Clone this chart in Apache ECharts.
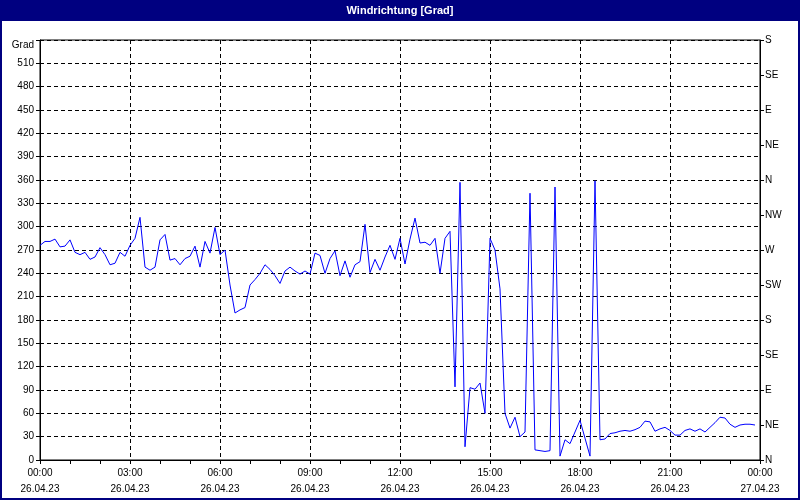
<!DOCTYPE html>
<html><head><meta charset="utf-8">
<script src="https://cdn.jsdelivr.net/npm/echarts@6/dist/echarts.min.js"></script>
<style>html,body{margin:0;padding:0;background:#fff}#c{width:800px;height:500px}</style>
</head><body><div id="c"></div>
<script>
const titleText = 'Windrichtung [Grad]';
const degreeUnit = 'Grad';
const sampleMinutes = 10;
const windDirection = [
  276,281,281,284,274,275,283,267,264,267,258,261,273,264,251,253,267,262,276,285,
  312,248,244,248,283,290,257,259,251,259,262,275,248,281,266,299,264,270,225,189,
  193,196,225,232,240,251,245,237,227,243,248,243,239,243,239,266,263,240,259,269,
  237,256,235,251,255,303,241,258,244,261,276,258,285,252,284,311,279,280,276,285,
  240,285,294,94,357,17,93,91,99,60,285,270,220,60,41,55,30,36,343,13,
  12,11,12,351,5,26,21,36,51,28,5,359,26,27,34,35,37,38,37,39,
  42,50,49,37,40,42,38,32,32,38,40,37,40,36,42,48,55,54,46,42,
  45,46,46,45
];
const timeTickLabels = [
  '00:00\n26.04.23','03:00\n26.04.23','06:00\n26.04.23','09:00\n26.04.23',
  '12:00\n26.04.23','15:00\n26.04.23','18:00\n26.04.23','21:00\n26.04.23',
  '00:00\n27.04.23'
];
const compassLabels = ['N','NE','E','SE','S','SW','W','NW','N','NE','E','SE','S'];

const seriesData = windDirection.map((v, i) => [i * sampleMinutes, v]);
const fontFamily = 'Liberation Sans';
const dash = [4, 3];

const chart = echarts.init(document.getElementById('c'), null, {renderer: 'canvas'});
chart.setOption({
  animation: false,
  backgroundColor: '#ffffff',
  graphic: [
    {type: 'rect', z: 100, shape: {x: 0, y: 0, width: 800, height: 21}, style: {fill: '#000080'}},
    {type: 'rect', z: 100, shape: {x: 1, y: 1, width: 798, height: 498}, style: {fill: 'none', stroke: '#000080', lineWidth: 2}},
    {type: 'text', z: 101, x: 400, y: 11, style: {text: titleText, fill: '#ffffff', font: 'bold 11px "Liberation Sans"', textAlign: 'center', textVerticalAlign: 'middle'}}
  ],
  grid: {left: 40, right: 40, top: 40, bottom: 40, show: true, borderColor: '#000', borderWidth: 1, backgroundColor: 'transparent'},
  xAxis: {
    type: 'value', min: 0, max: 1440, interval: 180,
    axisLine: {show: true, lineStyle: {color: '#000', width: 1}},
    axisTick: {show: true, length: 4, lineStyle: {color: '#000'}},
    minorTick: {show: true, splitNumber: 3, length: 4, lineStyle: {color: '#000'}},
    axisLabel: {color: '#000', fontFamily, fontSize: 10, lineHeight: 16, margin: 5,
      formatter: v => timeTickLabels[Math.round(v / 180)] || ''},
    splitLine: {show: true, lineStyle: {color: '#000', type: dash}}
  },
  yAxis: [
    {
      type: 'value', min: 0, max: 540, interval: 30, position: 'left',
      name: degreeUnit, nameLocation: 'end', nameGap: -5,
      nameTextStyle: {color: '#000', fontFamily, fontSize: 10, align: 'right', verticalAlign: 'middle', padding: [0, 6, 0, 0]},
      axisLine: {show: true, lineStyle: {color: '#000'}},
      axisTick: {show: true, length: 4, lineStyle: {color: '#000'}},
      axisLabel: {color: '#000', fontFamily, fontSize: 10, margin: 6, formatter: v => v === 540 ? '' : String(v)},
      splitLine: {show: true, lineStyle: {color: '#000', type: dash}}
    },
    {
      type: 'value', min: 0, max: 540, interval: 45, position: 'right',
      axisLine: {show: true, lineStyle: {color: '#000'}},
      axisTick: {show: true, length: 4, lineStyle: {color: '#000'}},
      axisLabel: {color: '#000', fontFamily, fontSize: 10, margin: 5, formatter: v => compassLabels[Math.round(v / 45)] || ''},
      splitLine: {show: false}
    }
  ],
  series: [{
    type: 'line', yAxisIndex: 0, data: seriesData, symbol: 'none', showSymbol: false,
    lineStyle: {color: '#0000ff', width: 1}, itemStyle: {color: '#0000ff'}, silent: true
  }]
});
</script>
</body></html>
